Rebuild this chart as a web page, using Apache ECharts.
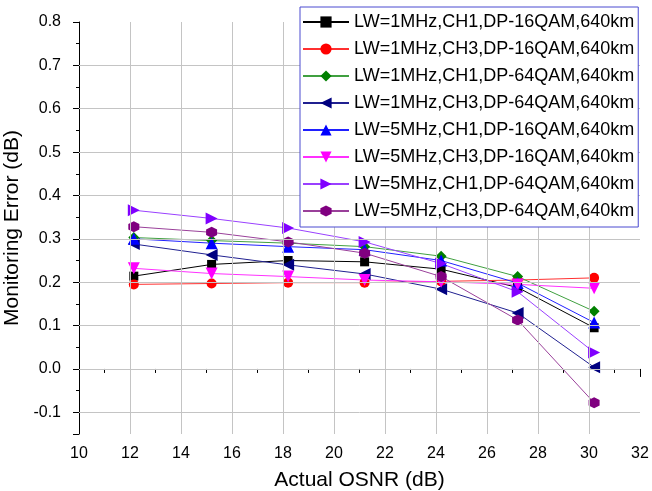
<!DOCTYPE html>
<html>
<head>
<meta charset="utf-8">
<script src="https://cdn.jsdelivr.net/npm/echarts@6/dist/echarts.min.js"></script>
<style>html,body{margin:0;padding:0;background:#fff}#c{width:652px;height:491px}</style>
</head>
<body>
<div id="c"></div>
<script>
const osnr = [12.15, 15.2, 18.2, 21.2, 24.2, 27.2, 30.2];
const names = [
  'LW=1MHz,CH1,DP-16QAM,640km',
  'LW=1MHz,CH3,DP-16QAM,640km',
  'LW=1MHz,CH1,DP-64QAM,640km',
  'LW=1MHz,CH3,DP-64QAM,640km',
  'LW=5MHz,CH1,DP-16QAM,640km',
  'LW=5MHz,CH3,DP-16QAM,640km',
  'LW=5MHz,CH1,DP-64QAM,640km',
  'LW=5MHz,CH3,DP-64QAM,640km'
];
const lw1Ch1Qam16 = [0.214, 0.241, 0.250, 0.247, 0.230, 0.188, 0.095];
const lw1Ch3Qam16 = [0.195, 0.197, 0.199, 0.199, 0.202, 0.205, 0.210];
const lw1Ch1Qam64 = [0.303, 0.296, 0.290, 0.282, 0.260, 0.213, 0.133];
const lw1Ch3Qam64 = [0.288, 0.263, 0.240, 0.219, 0.184, 0.129, 0.004];
const lw5Ch1Qam16 = [0.300, 0.290, 0.282, 0.275, 0.250, 0.198, 0.107];
const lw5Ch3Qam16 = [0.232, 0.220, 0.213, 0.205, 0.201, 0.195, 0.186];
const lw5Ch1Qam64 = [0.366, 0.347, 0.325, 0.293, 0.243, 0.178, 0.038];
const lw5Ch3Qam64 = [0.328, 0.315, 0.293, 0.267, 0.213, 0.113, -0.078];
const xTicks = [10, 12, 14, 16, 18, 20, 22, 24, 26, 28, 30, 32];
const xGridValues = [12, 14, 16, 18, 20, 22, 24, 26, 28, 30];
const yGridValues = [-0.1, 0, 0.1, 0.2, 0.3, 0.4, 0.5, 0.6, 0.7];

const values = [lw1Ch1Qam16, lw1Ch3Qam16, lw1Ch1Qam64, lw1Ch3Qam64, lw5Ch1Qam16, lw5Ch3Qam16, lw5Ch1Qam64, lw5Ch3Qam64];
const colors = ['#000000', '#ff0000', '#008000', '#000080', '#0000ff', '#ff00ff', '#8000ff', '#800080'];
const lineColors = ['#000000', '#ff3030', '#40a040', '#202090', '#2020ff', '#ff30ff', '#9a40ff', '#9a409a'];
const hex = 'path://M0.5,0 L1,0.29 L1,0.87 L0.5,1.16 L0,0.87 L0,0.29 Z';
const symbols = ['rect', 'circle', 'diamond', 'triangle', 'triangle', 'triangle', 'triangle', hex];
const rotates = [0, 0, 0, 90, 0, 180, -90, 0];
const sizes = [9, 10, 11, 12, 12, 12, 12, 11];

const font = '"Liberation Sans", Arial, sans-serif';
const chart = echarts.init(document.getElementById('c'), null, {renderer: 'canvas'});

const gridSeries = {
  name: 'grid',
  type: 'line',
  data: [],
  z: 1,
  silent: true,
  animation: false,
  markLine: {
    silent: true,
    animation: false,
    symbol: ['none', 'none'],
    label: {show: false},
    lineStyle: {color: '#c4c4c4', width: 1, type: 'solid'},
    emphasis: {disabled: true},
    data: xGridValues.map(v => ({xAxis: v})).concat(yGridValues.map(v => ({yAxis: v})))
  }
};

const series = [gridSeries].concat(names.map((n, i) => ({
  name: n,
  type: 'line',
  z: 3,
  data: osnr.map((x, j) => [x, values[i][j]]),
  symbol: symbols[i],
  symbolRotate: rotates[i],
  symbolSize: sizes[i],
  itemStyle: {color: colors[i]},
  lineStyle: {color: lineColors[i], width: 1},
  animation: false
})));

chart.setOption({
  animation: false,
  grid: {left: 79, right: 12, top: 22, bottom: 57, containLabel: false, outerBoundsMode: 'none'},
  legend: {
    orient: 'vertical',
    left: 300, top: 7,
    z: 10,
    padding: [6, 4, 7, 2],
    itemWidth: 46, itemHeight: 14, itemGap: 9,
    borderColor: '#4a4ad0', borderWidth: 1,
    backgroundColor: '#ffffff',
    textStyle: {fontFamily: font, fontSize: 18, color: '#000', lineHeight: 18},
    data: names
  },
  xAxis: {
    type: 'value', min: 10, max: 32, interval: 2,
    name: 'Actual OSNR (dB)', nameLocation: 'middle', nameGap: 36,
    nameTextStyle: {fontFamily: font, fontSize: 21, color: '#000'},
    axisLine: {lineStyle: {color: '#000', width: 1}},
    axisTick: {show: true, length: 8, lineStyle: {color: '#000'}},
    minorTick: {show: true, splitNumber: 2, length: 4, lineStyle: {color: '#000'}},
    axisLabel: {fontFamily: font, fontSize: 16, color: '#000', margin: 12,
      formatter: v => xTicks.includes(v) ? String(v) : ''},
    splitLine: {show: false}
  },
  yAxis: {
    type: 'value', min: -0.15, max: 0.8, minInterval: 0.1, maxInterval: 0.1, splitNumber: 9,
    name: 'Monitoring Error (dB)', nameLocation: 'middle', nameGap: 52, nameRotate: 90,
    nameTextStyle: {fontFamily: font, fontSize: 21, color: '#000'},
    axisLine: {show: true, lineStyle: {color: '#000', width: 1}},
    axisTick: {show: true, length: 6, lineStyle: {color: '#000'}},
    minorTick: {show: true, splitNumber: 2, length: 3, lineStyle: {color: '#000'}},
    axisLabel: {fontFamily: font, fontSize: 16, color: '#000', margin: 18,
      formatter: v => (Math.abs(Math.round(v * 10) - v * 10) < 1e-6) ? v.toFixed(1) : ''},
    splitLine: {show: false}
  },
  series: series
});
</script>
</body>
</html>
